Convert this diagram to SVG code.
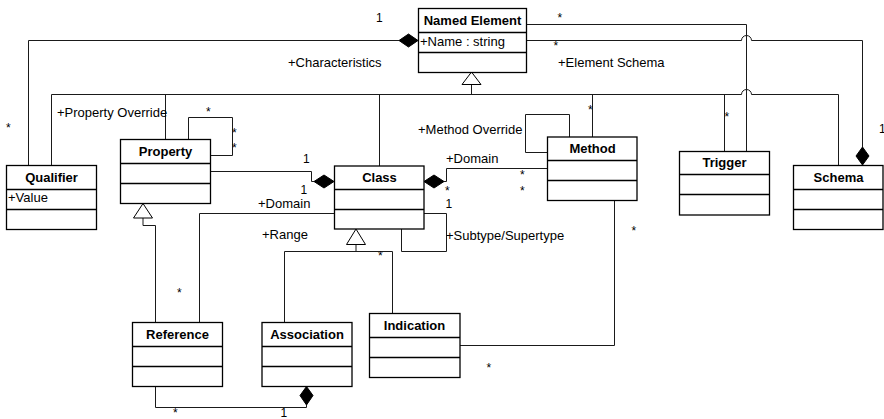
<svg xmlns="http://www.w3.org/2000/svg" width="884" height="419" viewBox="0 0 884 419">
  <style>
    text { font-family: "Liberation Sans", Arial, Helvetica, sans-serif; fill: #000; }
    .title { font-size: 13px; font-weight: bold; text-anchor: middle; }
    .attr { font-size: 13px; }
    .role { font-size: 13px; }
    .mult { font-size: 12px; }
    .box { fill: #fff; stroke: #000; stroke-width: 1.3; }
    .div { stroke: #000; stroke-width: 1.3; }
    .edge { fill: none; stroke: #1a1a1a; stroke-width: 1; }
    .comp { fill: #000; stroke: #000; stroke-width: 1; }
    .gen { fill: #fff; stroke: #000; stroke-width: 1; }
  </style>
  <rect width="884" height="419" fill="#fff"/>

  <!-- connectors -->
  <g id="connectors">
    <!-- generalization bus under Named Element (hops over the Trigger association) -->
    <path class="edge" d="M51.5 165 V94.5 H741.5 A5 5 0 0 1 751.5 94.5 H838.5 V165"/>
    <path class="edge" d="M471.5 84.5 V94.5"/>
    <path class="edge" d="M165.5 139 V94.5"/>
    <path class="edge" d="M379.5 166 V94.5"/>
    <path class="edge" d="M592.5 137 V94.5"/>
    <path class="edge" d="M724.5 151 V94.5"/>
    <path class="gen" d="M471.5 72 L462 84.5 L481 84.5 Z"/>

    <!-- Qualifier composed into Named Element -->
    <path class="edge" d="M28.5 165 V40.5 H399"/>
    <path class="comp" d="M418 40.5 L408.5 34 L399 40.5 L408.5 47 Z"/>

    <!-- Named Element to Trigger -->
    <path class="edge" d="M527 24.5 H746.5 V151"/>

    <!-- Named Element to Schema (composition) -->
    <path class="edge" d="M527 40.5 H741.5 A5 5 0 0 1 751.5 40.5 H862.5 V147"/>
    <path class="comp" d="M862.5 147 L869 156 L862.5 165 L856 156 Z"/>

    <!-- Property override self association -->
    <path class="edge" d="M188.5 139 V117.5 H232.5 V155.5 H211"/>

    <!-- Property composed into Class -->
    <path class="edge" d="M211 171.5 H311.5 V181.5 H314"/>
    <path class="comp" d="M334 181.5 L324 175 L314 181.5 L324 188 Z"/>

    <!-- Method composed into Class -->
    <path class="comp" d="M424 181.5 L434 175 L444 181.5 L434 188 Z"/>
    <path class="edge" d="M444 181.5 H446.5 V168.5 H547"/>

    <!-- Class subtype/supertype self association -->
    <path class="edge" d="M424 213.5 H446.5 V251.5 H401.5 V229"/>

    <!-- Class domain to Reference -->
    <path class="edge" d="M334 213.5 H199.5 V322"/>

    <!-- Reference specializes Property -->
    <path class="edge" d="M143 218 V225.5 H155.5 V322"/>
    <path class="gen" d="M143 203.5 L133.5 218 L152.5 218 Z"/>

    <!-- Association and Indication specialize Class -->
    <path class="edge" d="M356 244.5 V251.5"/>
    <path class="edge" d="M284.5 322 V251.5 H392.5 V313"/>
    <path class="gen" d="M356 229 L346.5 244.5 L365.5 244.5 Z"/>

    <!-- Method override self association -->
    <path class="edge" d="M569.5 137 V114.5 H525.5 V152.5 H547"/>

    <!-- Method to Indication -->
    <path class="edge" d="M614.5 200 V345.5 H460"/>

    <!-- Reference composed into Association -->
    <path class="edge" d="M155.5 386 V407.5 H306.5 V405"/>
    <path class="comp" d="M306.5 386.5 L313 395.5 L306.5 405 L300 395.5 Z"/>
  </g>

  <!-- role and multiplicity labels -->
  <g id="labels">
    <text class="mult" x="376" y="21.5">1</text>
    <text class="role" x="288" y="67">+Characteristics</text>
    <text class="mult" x="557.5" y="22">*</text>
    <text class="mult" x="553.5" y="50">*</text>
    <text class="role" x="558" y="67">+Element Schema</text>
    <text class="mult" x="6" y="132">*</text>
    <text class="role" x="57" y="117">+Property Override</text>
    <text class="mult" x="206" y="116">*</text>
    <text class="mult" x="232" y="137">*</text>
    <text class="mult" x="232" y="152">*</text>
    <text class="mult" x="303" y="163">1</text>
    <text class="mult" x="300.5" y="194">1</text>
    <text class="role" x="258" y="207.5">+Domain</text>
    <text class="role" x="262" y="239">+Range</text>
    <text class="mult" x="378" y="260">*</text>
    <text class="role" x="418" y="134">+Method Override</text>
    <text class="role" x="446" y="162.5">+Domain</text>
    <text class="mult" x="445" y="195">*</text>
    <text class="mult" x="520" y="178.5">*</text>
    <text class="mult" x="520" y="195">*</text>
    <text class="mult" x="445.5" y="208">1</text>
    <text class="role" x="446" y="240">+Subtype/Supertype</text>
    <text class="mult" x="588" y="113.5">*</text>
    <text class="mult" x="724.5" y="121">*</text>
    <text class="mult" x="879" y="133">1</text>
    <text class="mult" x="631.5" y="235">*</text>
    <text class="mult" x="177" y="297">*</text>
    <text class="mult" x="486.5" y="372">*</text>
    <text class="mult" x="173" y="417">*</text>
    <text class="mult" x="280.5" y="417">1</text>
  </g>

  <!-- classes -->
  <g id="named-element">
    <rect class="box" x="418.5" y="8.5" width="108" height="64"/>
    <line class="div" x1="418.5" y1="32.5" x2="526.5" y2="32.5"/>
    <line class="div" x1="418.5" y1="52.5" x2="526.5" y2="52.5"/>
    <text class="title" x="472.5" y="24.5">Named Element</text>
    <text class="attr" x="420" y="45.5">+Name : string</text>
  </g>

  <g id="qualifier">
    <rect class="box" x="6.5" y="165.5" width="90" height="64"/>
    <line class="div" x1="6.5" y1="189.5" x2="96.5" y2="189.5"/>
    <line class="div" x1="6.5" y1="209.5" x2="96.5" y2="209.5"/>
    <text class="title" x="51.5" y="181.5">Qualifier</text>
    <text class="attr" x="8" y="202">+Value</text>
  </g>

  <g id="property">
    <rect class="box" x="120.5" y="139.5" width="90" height="64"/>
    <line class="div" x1="120.5" y1="163.5" x2="210.5" y2="163.5"/>
    <line class="div" x1="120.5" y1="183.5" x2="210.5" y2="183.5"/>
    <text class="title" x="165.5" y="155.5">Property</text>
  </g>

  <g id="class">
    <rect class="box" x="334.5" y="166" width="89.5" height="63"/>
    <line class="div" x1="334.5" y1="189.5" x2="424" y2="189.5"/>
    <line class="div" x1="334.5" y1="209.5" x2="424" y2="209.5"/>
    <text class="title" x="379.5" y="182">Class</text>
  </g>

  <g id="method">
    <rect class="box" x="547.5" y="137" width="89.5" height="63.5"/>
    <line class="div" x1="547.5" y1="160.5" x2="637" y2="160.5"/>
    <line class="div" x1="547.5" y1="180.5" x2="637" y2="180.5"/>
    <text class="title" x="592.5" y="153">Method</text>
  </g>

  <g id="trigger">
    <rect class="box" x="679.5" y="151.5" width="90" height="63.5"/>
    <line class="div" x1="679.5" y1="174.5" x2="769.5" y2="174.5"/>
    <line class="div" x1="679.5" y1="194.5" x2="769.5" y2="194.5"/>
    <text class="title" x="724.5" y="167">Trigger</text>
  </g>

  <g id="schema">
    <rect class="box" x="793.5" y="165.5" width="89.5" height="64"/>
    <line class="div" x1="793.5" y1="189.5" x2="883" y2="189.5"/>
    <line class="div" x1="793.5" y1="209.5" x2="883" y2="209.5"/>
    <text class="title" x="838.5" y="181.5">Schema</text>
  </g>

  <g id="reference">
    <rect class="box" x="132.5" y="322.5" width="90" height="64"/>
    <line class="div" x1="132.5" y1="346.5" x2="222.5" y2="346.5"/>
    <line class="div" x1="132.5" y1="366.5" x2="222.5" y2="366.5"/>
    <text class="title" x="177.5" y="338.5">Reference</text>
  </g>

  <g id="association">
    <rect class="box" x="262" y="322.5" width="90" height="64"/>
    <line class="div" x1="262" y1="346.5" x2="352" y2="346.5"/>
    <line class="div" x1="262" y1="366.5" x2="352" y2="366.5"/>
    <text class="title" x="307" y="338.5">Association</text>
  </g>

  <g id="indication">
    <rect class="box" x="369.5" y="313.5" width="90.5" height="64"/>
    <line class="div" x1="369.5" y1="337.5" x2="460" y2="337.5"/>
    <line class="div" x1="369.5" y1="357.5" x2="460" y2="357.5"/>
    <text class="title" x="414.5" y="329.5">Indication</text>
  </g>
</svg>
